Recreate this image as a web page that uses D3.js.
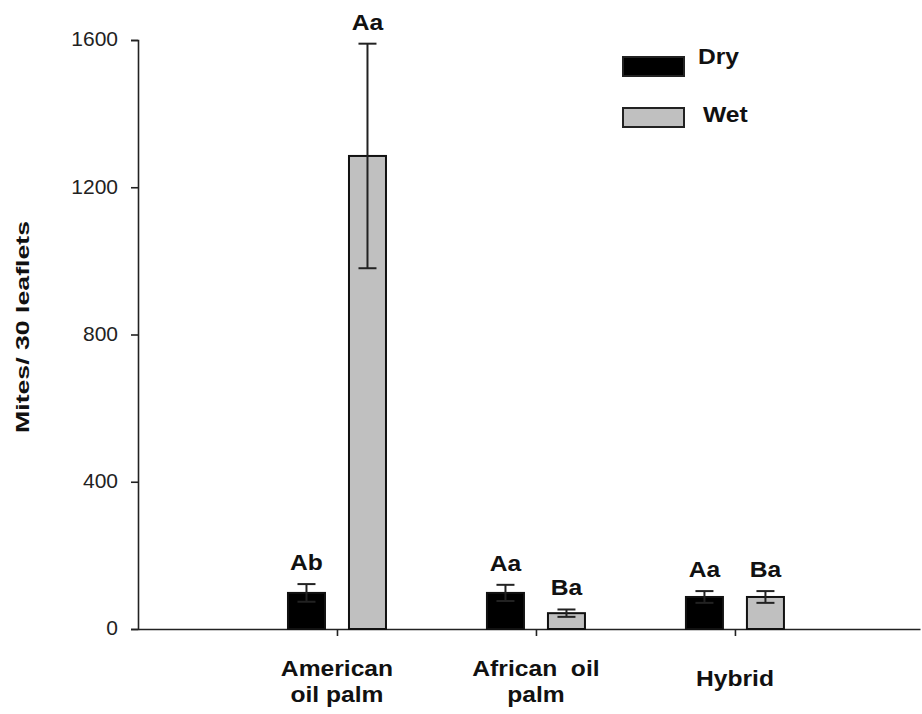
<!DOCTYPE html>
<html lang="en">
<head>
<meta charset="UTF-8">
<title>Mites per 30 leaflets</title>
<script src="https://d3js.org/d3.v7.min.js"></script>
<style>
  body { margin: 0; background: #fff; }
  text { font-family: "Liberation Sans", Arial, sans-serif; }
</style>
</head>
<body>
<svg width="922" height="714"></svg>
<script>
// data
const categories = [["American", "oil palm"], ["African  oil", "palm"], ["Hybrid"]];
const series = ["Dry", "Wet"];
const dryMean = [98, 98, 87];
const dryErr = [24, 22, 16];
const wetMean = [1285, 43, 87];
const wetErr = [305, 10, 16];
const dryLetters = ["Ab", "Aa", "Aa"];
const wetLetters = ["Aa", "Ba", "Ba"];
const yTicks = [0, 400, 800, 1200, 1600];

const svg = d3.select("svg");
const x = d3.scaleLinear([0, 3.93], [138, 920]);
const y = d3.scaleLinear([0, 1600], [629, 40]);
const barW = 37, gap = 12;
const fills = ["#000000", "#c0c0c0"];
const stretch = 1.12; // text in the picture is a little wider than plain Arial

// bold, slightly widened text anchored at (px, py)
function label(px, py, str, size, anchor) {
  return svg.append("g").attr("transform", `translate(${px},${py}) scale(${stretch},1)`)
    .append("text").attr("text-anchor", anchor || "middle").attr("font-size", size)
    .attr("font-weight", "bold").attr("fill", "#111")
    .attr("xml:space", "preserve").style("white-space", "pre").text(str);
}

// y axis
const yAxis = svg.append("g").attr("transform", "translate(138,0)")
  .call(d3.axisLeft(y).tickValues(yTicks).tickSize(7).tickPadding(13).tickFormat(d3.format("d")));
yAxis.select(".domain").attr("stroke", "#222").attr("stroke-width", 1.6);
yAxis.selectAll(".tick line").attr("stroke", "#222").attr("stroke-width", 1.6);
yAxis.selectAll("text").attr("font-size", 21).attr("fill", "#222").attr("dy", "0.28em");

// x axis
const xAxis = svg.append("g").attr("transform", "translate(0,629)")
  .call(d3.axisBottom(x).tickValues([1, 2, 3]).tickSize(7).tickSizeOuter(0).tickFormat(""));
xAxis.select(".domain").attr("stroke", "#222").attr("stroke-width", 1.6);
xAxis.selectAll(".tick line").attr("stroke", "#222").attr("stroke-width", 1.6);

// category labels
categories.forEach((lines, i) => {
  const base = lines.length === 1 ? 686 : 676;
  lines.forEach((l, j) => label(x(i + 1), base + j * 26, l, 22));
});

// y label
svg.append("text").attr("transform", "translate(29,327) rotate(-90)")
  .attr("text-anchor", "middle").attr("font-size", 19).attr("font-weight", "bold")
  .attr("textLength", 212).attr("lengthAdjust", "spacingAndGlyphs")
  .attr("fill", "#111").text("Mites/ 30 leaflets");

// bars
const groups = [
  { mean: dryMean, err: dryErr, letters: dryLetters, off: -gap - barW, fill: fills[0] },
  { mean: wetMean, err: wetErr, letters: wetLetters, off: gap, fill: fills[1] }
];
groups.forEach(g => {
  g.mean.forEach((v, i) => {
    const bx = x(i + 1) + g.off, cx = bx + barW / 2;
    svg.append("rect").attr("x", bx).attr("y", y(v)).attr("width", barW)
      .attr("height", y(0) - y(v)).attr("fill", g.fill).attr("stroke", "#111").attr("stroke-width", 2);
    const top = y(v + g.err[i]), bot = y(v - g.err[i]);
    const eb = svg.append("g").attr("stroke", "#222").attr("stroke-width", 2);
    eb.append("line").attr("x1", cx).attr("x2", cx).attr("y1", top).attr("y2", bot);
    eb.append("line").attr("x1", cx - 9).attr("x2", cx + 9).attr("y1", top).attr("y2", top);
    eb.append("line").attr("x1", cx - 9).attr("x2", cx + 9).attr("y1", bot).attr("y2", bot);
    label(cx, top - 14, g.letters[i], 22);
  });
});

// legend
series.forEach((s, i) => {
  svg.append("rect").attr("x", 623).attr("y", 57 + i * 51).attr("width", 61).attr("height", 19)
    .attr("fill", fills[i]).attr("stroke", "#222").attr("stroke-width", 2);
  label(698 + i * 5, 64 + i * 58, s, 22, "start");
});
</script>
</body>
</html>
